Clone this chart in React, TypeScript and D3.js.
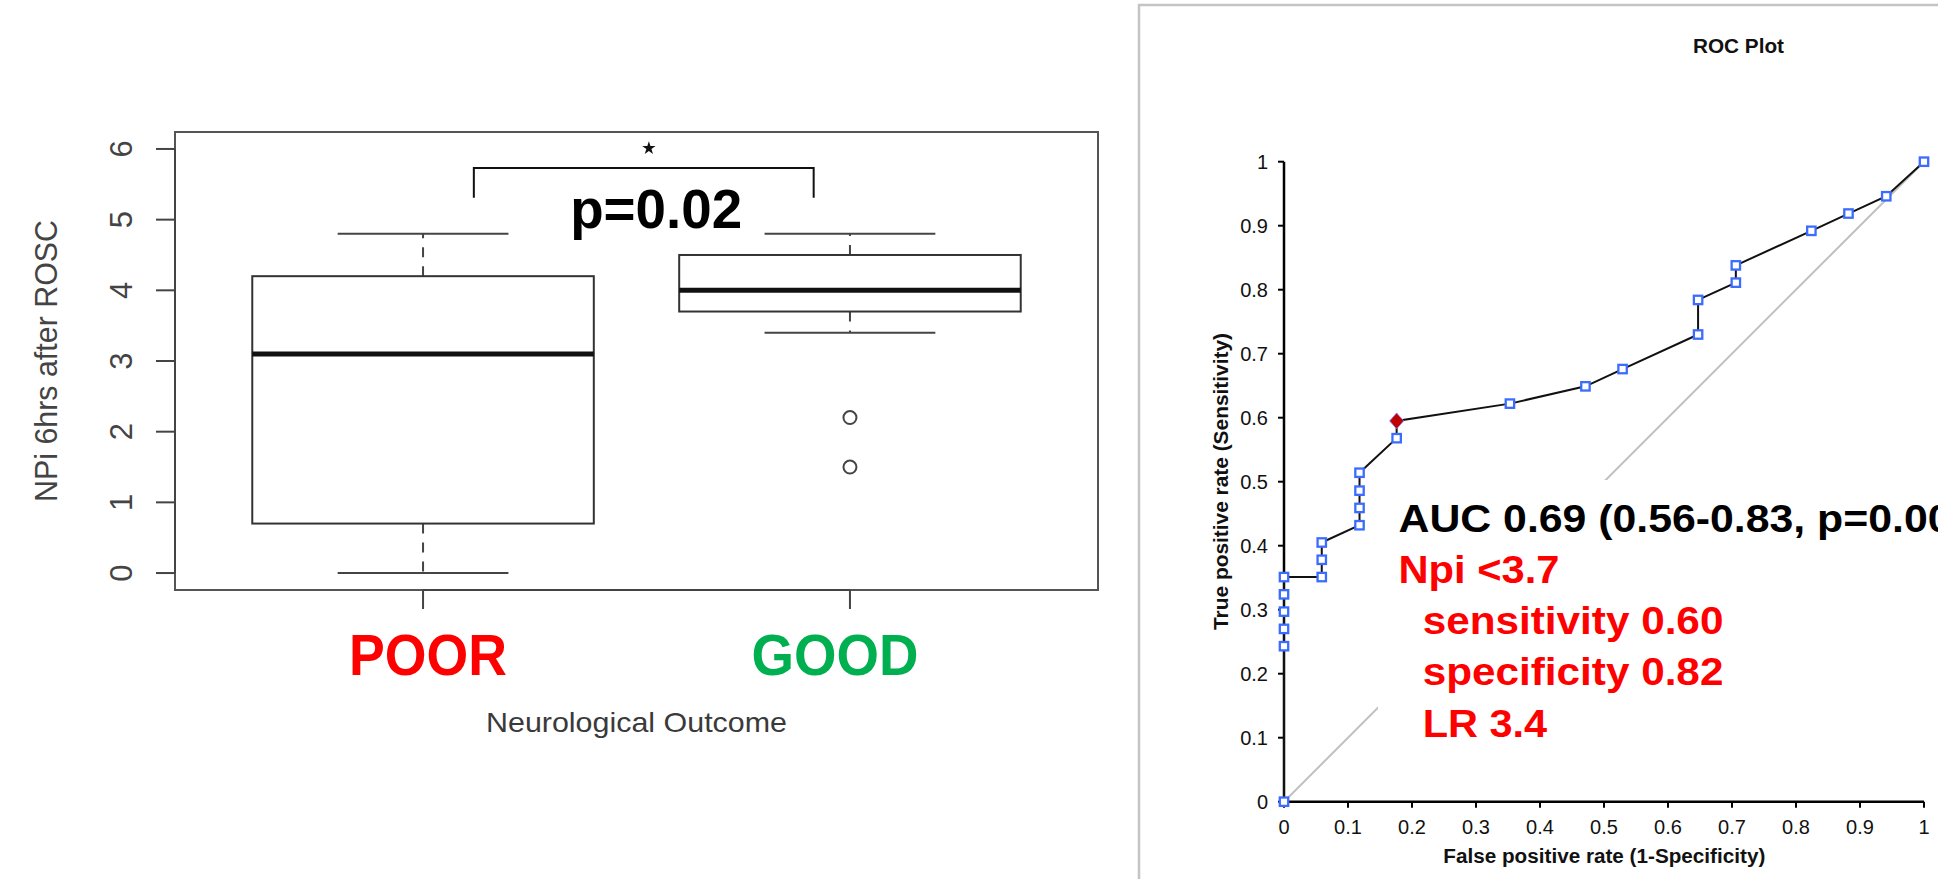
import React from "react";
import * as d3 from "d3";

// ---------- Left panel data (box plot) ----------
const groups = ["POOR", "GOOD"];
const groupColors = ["#ff0000", "#00b050"];
const whiskerLow = [0, 3.4];
const quart1 = [0.7, 3.7];
const medians = [3.1, 4.0];
const quart3 = [4.2, 4.5];
const whiskerHigh = [4.8, 4.8];
const outliers: number[][] = [[], [2.2, 1.5]];
const leftYTicks = [0, 1, 2, 3, 4, 5, 6];
const leftYTitle = "NPi 6hrs after ROSC";
const leftXTitle = "Neurological Outcome";
const pValueText = "p=0.02";

// ---------- Right panel data (ROC) ----------
const rocFpr = [0, 0, 0, 0, 0, 0, 0.059, 0.059, 0.059, 0.118, 0.118, 0.118, 0.118, 0.176, 0.176, 0.353, 0.471, 0.529, 0.647, 0.647, 0.706, 0.706, 0.824, 0.882, 0.941, 1];
const rocTpr = [0, 0.243, 0.27, 0.297, 0.324, 0.351, 0.351, 0.378, 0.405, 0.432, 0.459, 0.486, 0.514, 0.568, 0.595, 0.622, 0.649, 0.676, 0.73, 0.784, 0.811, 0.838, 0.892, 0.919, 0.946, 1];
const cutoffIndex = 14;
const rocTicks = [0, 0.1, 0.2, 0.3, 0.4, 0.5, 0.6, 0.7, 0.8, 0.9, 1];
const rocTickLabels = ["0", "0.1", "0.2", "0.3", "0.4", "0.5", "0.6", "0.7", "0.8", "0.9", "1"];
const rocTitle = "ROC Plot";
const rocXTitle = "False positive rate (1-Specificity)";
const rocYTitle = "True positive rate (Sensitivity)";
const aucText = "AUC 0.69 (0.56-0.83, p=0.00";
const cutoffLines = ["Npi <3.7", "sensitivity 0.60", "specificity 0.82", "LR 3.4"];

const FONT = "'Liberation Sans', Arial, Helvetica, sans-serif";

export default function App() {
  // left scales
  const xL = d3.scaleLinear().domain([0.419, 2.581]).range([175, 1098]);
  const yL = d3.scaleLinear().domain([-0.24, 6.24]).range([590, 132]);
  const [fx0, fx1] = xL.range();
  const [fy1, fy0] = yL.range();

  // right scales
  const xR = d3.scaleLinear().domain([0, 1]).range([1284, 1924]);
  const yR = d3.scaleLinear().domain([0, 1]).range([801.7, 161.7]);

  const rocPts: [number, number][] = rocFpr.map((f, i) => [f, rocTpr[i]]);
  const rocLine = d3
    .line<[number, number]>()
    .x((d) => xR(d[0]))
    .y((d) => yR(d[1]));

  const star = d3.symbol().type(d3.symbolStar).size(55)();

  const bx1 = xL(1.119), bx2 = xL(1.915), byTop = yL(5.731), byBot = yL(5.31);

  return (
    <svg
      width={1938}
      height={879}
      style={{ position: "absolute", left: 0, top: 0, background: "#fff" }}
      fontFamily={FONT}
    >
      <rect x={0} y={0} width={1938} height={879} fill="#fff" />

      {/* ===== LEFT PANEL ===== */}
      <rect x={fx0} y={fy0} width={fx1 - fx0} height={fy1 - fy0} fill="none" stroke="#555" strokeWidth={2} />
      {/* y axis */}
      <line x1={fx0} x2={fx0} y1={yL(0)} y2={yL(6)} stroke="#444" strokeWidth={2} />
      {leftYTicks.map((v) => (
        <g key={"lyt" + v}>
          <line x1={fx0 - 19} x2={fx0} y1={yL(v)} y2={yL(v)} stroke="#444" strokeWidth={2} />
          <text
            transform={`translate(132,${yL(v)}) rotate(-90)`}
            textAnchor="middle"
            fontSize={31}
            fill="#444"
          >
            {v}
          </text>
        </g>
      ))}
      <text
        transform={`translate(57,${(fy0 + fy1) / 2}) rotate(-90)`}
        textAnchor="middle"
        fontSize={31}
        fill="#444"
        textLength={282}
        lengthAdjust="spacingAndGlyphs"
      >
        {leftYTitle}
      </text>
      {/* x axis */}
      <line x1={xL(1)} x2={xL(2)} y1={fy1} y2={fy1} stroke="#444" strokeWidth={2} />
      {groups.map((g, i) => (
        <line key={"lxt" + g} x1={xL(i + 1)} x2={xL(i + 1)} y1={fy1} y2={fy1 + 19} stroke="#444" strokeWidth={2} />
      ))}

      {/* boxes */}
      {groups.map((g, i) => {
        const c = i + 1;
        const cx = xL(c);
        return (
          <g key={"box" + g}>
            <line x1={cx} x2={cx} y1={yL(quart3[i])} y2={yL(whiskerHigh[i])} stroke="#444" strokeWidth={2} strokeDasharray="10,9" />
            <line x1={cx} x2={cx} y1={yL(quart1[i])} y2={yL(whiskerLow[i])} stroke="#444" strokeWidth={2} strokeDasharray="10,9" />
            <line x1={xL(c - 0.2)} x2={xL(c + 0.2)} y1={yL(whiskerHigh[i])} y2={yL(whiskerHigh[i])} stroke="#444" strokeWidth={2} />
            <line x1={xL(c - 0.2)} x2={xL(c + 0.2)} y1={yL(whiskerLow[i])} y2={yL(whiskerLow[i])} stroke="#444" strokeWidth={2} />
            <rect
              x={xL(c - 0.4)}
              y={yL(quart3[i])}
              width={xL(c + 0.4) - xL(c - 0.4)}
              height={yL(quart1[i]) - yL(quart3[i])}
              fill="#fff"
              stroke="#333"
              strokeWidth={2}
            />
            <line x1={xL(c - 0.4)} x2={xL(c + 0.4)} y1={yL(medians[i])} y2={yL(medians[i])} stroke="#111" strokeWidth={5} />
            {outliers[i].map((o, k) => (
              <circle key={k} cx={cx} cy={yL(o)} r={6.5} fill="none" stroke="#444" strokeWidth={2} />
            ))}
          </g>
        );
      })}

      {/* significance bracket */}
      <path d={`M${bx1},${byBot}V${byTop}H${bx2}V${byBot}`} fill="none" stroke="#111" strokeWidth={2} />
      <path d={star} transform={`translate(${xL(1.529)},${yL(6.01)})`} fill="#111" />
      <text
        x={xL(1.546)}
        y={yL(4.88)}
        textAnchor="middle"
        fontSize={56}
        fontWeight="bold"
        fill="#000"
        textLength={172}
        lengthAdjust="spacingAndGlyphs"
      >
        {pValueText}
      </text>

      {/* group labels */}
      {groups.map((g, i) => (
        <text
          key={"gl" + g}
          x={xL(i + 1) + (i === 0 ? 5 : -15)}
          y={675}
          textAnchor="middle"
          fontSize={58}
          fontWeight="bold"
          fill={groupColors[i]}
          textLength={i === 0 ? 158 : 167}
          lengthAdjust="spacingAndGlyphs"
        >
          {g}
        </text>
      ))}
      <text
        x={(fx0 + fx1) / 2}
        y={731.5}
        textAnchor="middle"
        fontSize={28}
        fill="#3a3a3a"
        textLength={301}
        lengthAdjust="spacingAndGlyphs"
      >
        {leftXTitle}
      </text>

      {/* ===== RIGHT PANEL ===== */}
      <path d="M1139,879V5H1938" fill="none" stroke="#c4c4c4" strokeWidth={2.5} />
      <text
        x={1738.5}
        y={53}
        textAnchor="middle"
        fontSize={20}
        fontWeight="bold"
        fill="#111"
        textLength={91}
        lengthAdjust="spacingAndGlyphs"
      >
        {rocTitle}
      </text>

      {/* diagonal reference */}
      <line x1={xR(0)} y1={yR(0)} x2={xR(1)} y2={yR(1)} stroke="#c0c0c0" strokeWidth={2} />

      {/* axes */}
      <line x1={xR(0)} x2={xR(0)} y1={yR(0)} y2={yR(1)} stroke="#000" strokeWidth={2.5} />
      <line x1={xR(0)} x2={xR(1)} y1={yR(0)} y2={yR(0)} stroke="#000" strokeWidth={2.5} />
      {rocTicks.map((t, i) => (
        <g key={"rt" + i}>
          <line x1={xR(0) - 6} x2={xR(0)} y1={yR(t)} y2={yR(t)} stroke="#000" strokeWidth={2} />
          <text x={1268} y={yR(t)} dy="0.36em" textAnchor="end" fontSize={20} fill="#111">
            {rocTickLabels[i]}
          </text>
          <line x1={xR(t)} x2={xR(t)} y1={yR(0)} y2={yR(0) + 6} stroke="#000" strokeWidth={2} />
          <text x={xR(t)} y={834} textAnchor="middle" fontSize={20} fill="#111">
            {rocTickLabels[i]}
          </text>
        </g>
      ))}
      <text
        x={1604.3}
        y={863}
        textAnchor="middle"
        fontSize={20}
        fontWeight="bold"
        fill="#111"
        textLength={322}
        lengthAdjust="spacingAndGlyphs"
      >
        {rocXTitle}
      </text>
      <text
        transform={`translate(1228,481.5) rotate(-90)`}
        textAnchor="middle"
        fontSize={20}
        fontWeight="bold"
        fill="#111"
        textLength={297}
        lengthAdjust="spacingAndGlyphs"
      >
        {rocYTitle}
      </text>

      {/* ROC curve */}
      <path d={rocLine(rocPts) || ""} fill="none" stroke="#111" strokeWidth={2} />
      {rocPts.map((p, i) =>
        i === cutoffIndex ? (
          <path
            key={"m" + i}
            d={`M${xR(p[0])},${yR(p[1]) - 8}L${xR(p[0]) + 7},${yR(p[1])}L${xR(p[0])},${yR(p[1]) + 8}L${xR(p[0]) - 7},${yR(p[1])}Z`}
            fill="#c00000"
            stroke="#8080ff"
            strokeWidth={0.8}
          />
        ) : (
          <rect
            key={"m" + i}
            x={xR(p[0]) - 4.2}
            y={yR(p[1]) - 4.2}
            width={8.4}
            height={8.4}
            fill="#fff"
            stroke="#3b6cff"
            strokeWidth={2.3}
          />
        )
      )}

      {/* annotation box */}
      <rect x={1378} y={480} width={560} height={280} fill="#fff" />
      <text
        x={1398.5}
        y={531.5}
        fontSize={38}
        fontWeight="bold"
        fill="#000"
        textLength={553}
        lengthAdjust="spacingAndGlyphs"
      >
        {aucText}
      </text>
      <text x={1398.5} y={583.3} fontSize={39} fontWeight="bold" fill="#ff0000" textLength={161} lengthAdjust="spacingAndGlyphs">
        {cutoffLines[0]}
      </text>
      <text x={1422.7} y={634} fontSize={39} fontWeight="bold" fill="#ff0000" textLength={300.7} lengthAdjust="spacingAndGlyphs">
        {cutoffLines[1]}
      </text>
      <text x={1422.7} y={685} fontSize={39} fontWeight="bold" fill="#ff0000" textLength={300.7} lengthAdjust="spacingAndGlyphs">
        {cutoffLines[2]}
      </text>
      <text x={1422.7} y={736.7} fontSize={39} fontWeight="bold" fill="#ff0000" textLength={124.5} lengthAdjust="spacingAndGlyphs">
        {cutoffLines[3]}
      </text>
    </svg>
  );
}
